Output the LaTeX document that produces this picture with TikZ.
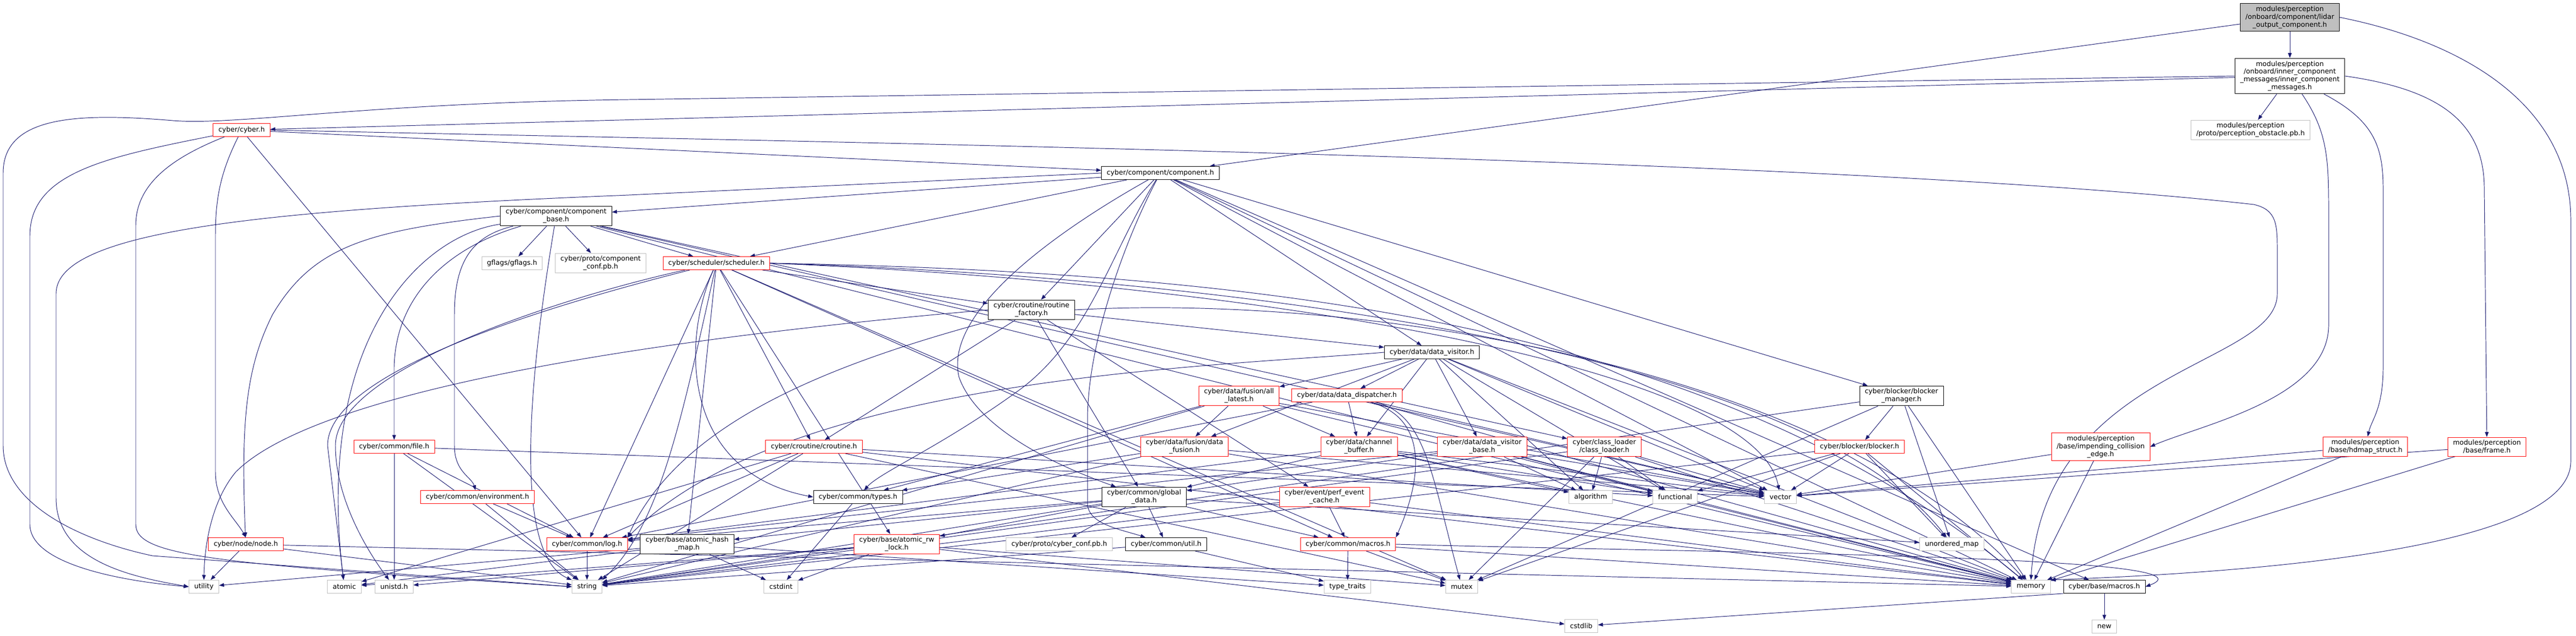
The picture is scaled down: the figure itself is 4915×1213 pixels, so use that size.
\documentclass[tikz,border=0pt]{standalone}
\usepackage{fontspec}
\setmainfont{DejaVu Sans}
\usetikzlibrary{arrows.meta,backgrounds}
\definecolor{edgeblue}{HTML}{191970}
\definecolor{extgray}{HTML}{BFBFBF}

\begin{document}
\begin{tikzpicture}[x=0.02cm, y=-0.02cm,
    every node/.style={font=\fontsize{7.4}{8.5}\selectfont, align=center, inner xsep=0.2cm, inner ysep=0.1cm, minimum height=0.5cm, line width=0.55pt, fill=white},
    hdr/.style={draw=black},
    trunc/.style={draw=red},
    ext/.style={draw=extgray},
    rootbox/.style={draw=black, fill=extgray},
    dep/.style={draw=edgeblue, line width=0.55pt, -{Triangle[length=0.19cm,width=0.14cm]}}]
    \useasboundingbox (0,0) rectangle (4915,1213);

    % Top files
    \node[rootbox] (root) at (4369,33) {modules/perception\\/onboard/component/lidar\\\_output\_component.h};
    \node[hdr] (icm) at (4369,145) {modules/perception\\/onboard/inner\_component\\\_messages/inner\_component\\\_messages.h};
    \node[ext] (pob) at (4294,248) {modules/perception\\/proto/perception\_obstacle.pb.h};
    \node[trunc] (cyber) at (461,248) {cyber/cyber.h};
    \node[hdr] (comp) at (2214,330) {cyber/component/component.h};
    \node[hdr] (cbase) at (1061,412) {cyber/component/component\\\_base.h};

    % Middle rows
    \node[ext] (gflags) at (977,502) {gflags/gflags.h};
    \node[ext] (cconf) at (1146,502) {cyber/proto/component\\\_conf.pb.h};
    \node[trunc] (sched) at (1367,502) {cyber/scheduler/scheduler.h};
    \node[hdr] (rfac) at (1968,591) {cyber/croutine/routine\\\_factory.h};
    \node[hdr] (dvis) at (2732,672) {cyber/data/data\_visitor.h};
    \node[trunc] (alat) at (2364,755) {cyber/data/fusion/all\\\_latest.h};
    \node[trunc] (ddisp) at (2570,754) {cyber/data/data\_dispatcher.h};
    \node[hdr] (bmgr) at (3628,755) {cyber/blocker/blocker\\\_manager.h};

    \node[trunc] (file) at (752,852) {cyber/common/file.h};
    \node[trunc] (crout) at (1553,852) {cyber/croutine/croutine.h};
    \node[trunc] (dfus) at (2260,852) {cyber/data/fusion/data\\\_fusion.h};
    \node[trunc] (cbuf) at (2593,852) {cyber/data/channel\\\_buffer.h};
    \node[trunc] (dvb) at (2828,852) {cyber/data/data\_visitor\\\_base.h};
    \node[trunc] (cload) at (3061,852) {cyber/class\_loader\\/class\_loader.h};
    \node[trunc] (blocker) at (3548,852) {cyber/blocker/blocker.h};
    \node[trunc] (ice) at (4008,852) {modules/perception\\/base/impending\_collision\\\_edge.h};
    \node[trunc] (hdmap) at (4513,852) {modules/perception\\/base/hdmap\_struct.h};
    \node[trunc] (frame) at (4745,852) {modules/perception\\/base/frame.h};

    \node[trunc] (env) at (911,948) {cyber/common/environment.h};
    \node[hdr] (types) at (1637,948) {cyber/common/types.h};
    \node[hdr] (gdata) at (2183,948) {cyber/common/global\\\_data.h};
    \node[trunc] (perf) at (2527,948) {cyber/event/perf\_event\\\_cache.h};
    \node[ext] (algo) at (3035,948) {algorithm};
    \node[ext] (func) at (3196,948) {functional};
    \node[ext] (vec) at (3397,948) {vector};

    \node[trunc] (node) at (469,1038) {cyber/node/node.h};
    \node[trunc] (log) at (1120,1038) {cyber/common/log.h};
    \node[hdr] (ahm) at (1311,1038) {cyber/base/atomic\_hash\\\_map.h};
    \node[trunc] (arw) at (1711,1038) {cyber/base/atomic\_rw\\\_lock.h};
    \node[ext] (cybconf) at (2021,1038) {cyber/proto/cyber\_conf.pb.h};
    \node[hdr] (util) at (2225,1038) {cyber/common/util.h};
    \node[trunc] (macros) at (2572,1038) {cyber/common/macros.h};
    \node[ext] (umap) at (3724,1038) {unordered\_map};

    % System headers
    \node[ext] (utility) at (389,1119) {utility};
    \node[ext] (atomic) at (657,1119) {atomic};
    \node[ext] (unistd) at (752,1119) {unistd.h};
    \node[ext] (string) at (1120,1119) {string};
    \node[ext] (cstdint) at (1490,1119) {cstdint};
    \node[ext] (typetr) at (2571,1119) {type\_traits};
    \node[ext] (mutex) at (2789,1119) {mutex};
    \node[ext] (memory) at (3875,1119) {memory};
    \node[hdr] (bmacros) at (4015,1119) {cyber/base/macros.h};
    \node[ext] (cstdlib) at (3017,1194) {cstdlib};
    \node[ext] (new) at (4015,1195) {new};

    \begin{scope}[on background layer]
    % Root and messages
    \draw[dep] (root) -- (icm);
    \draw[dep] (root) -- (comp);
    \draw[dep] (root.east) .. controls (4700,80) and (4905,200) .. (4905,420) -- (4905,880) .. controls (4905,1060) and (4200,1095) .. (memory.north east);
    \draw[dep] (icm.west) -- (1200,190) .. controls (700,196) and (450,240) .. (330,230) .. controls (150,215) and (6,220) .. (6,330) -- (6,850) .. controls (6,960) and (150,1030) .. (291,1060) -- (string.west);
    \draw[dep] (icm) -- (cyber);
    \draw[dep] (icm) -- (pob);
    \draw[dep] (icm) .. controls (4440,250) and (4443,300) .. (4443,400) -- (4443,620) .. controls (4443,760) and (4200,810) .. (ice.east);
    \draw[dep] (icm) .. controls (4530,230) and (4547,280) .. (4547,360) -- (4547,700) .. controls (4547,780) and (4525,800) .. (hdmap);
    \draw[dep] (icm.east) .. controls (4650,170) and (4740,230) .. (4740,360) -- (frame);

    % cyber.h
    \draw[dep] (cyber) .. controls (200,300) and (57,330) .. (57,450) -- (57,1000) .. controls (57,1080) and (250,1110) .. (utility.west);
    \draw[dep] (cyber) .. controls (330,300) and (259,350) .. (259,430) -- (259,1000) .. controls (259,1060) and (400,1075) .. (string.west);
    \draw[dep] (cyber) .. controls (420,330) and (411,380) .. (411,450) -- (411,900) .. controls (411,960) and (450,990) .. (node.north);
    \draw[dep] (cyber) -- (log);
    \draw[dep] (cyber) -- (comp);
    \draw[dep] (cyber.east) .. controls (1500,270) and (3500,300) .. (4300,390) .. controls (4345,400) and (4345,430) .. (4345,480) -- (4345,560) .. controls (4345,700) and (3900,700) .. (memory.north);

    % component.h
    \draw[dep] (comp) -- (memory);
    \draw[dep] (comp.west) -- (1200,372) .. controls (500,400) and (107,440) .. (107,560) -- (107,950) .. controls (107,1070) and (250,1100) .. (utility.west);
    \draw[dep] (comp) -- (vec);
    \draw[dep] (comp) -- (bmacros);
    \draw[dep] (comp) -- (bmgr);
    \draw[dep] (comp) .. controls (2000,450) and (1800,600) .. (1830,720) .. controls (1870,830) and (2050,900) .. (gdata);
    \draw[dep] (comp) .. controls (2120,480) and (2080,640) .. (1950,740) .. controls (1800,850) and (1680,900) .. (types);
    \draw[dep] (comp) .. controls (2150,450) and (2075,650) .. (2075,800) -- (2075,960) .. controls (2075,1000) and (2140,1010) .. (util);
    \draw[dep] (comp) -- (cbase);
    \draw[dep] (comp) -- (rfac);
    \draw[dep] (comp) -- (dvis);
    \draw[dep] (comp) -- (sched);

    % component_base.h
    \draw[dep] (cbase) .. controls (800,450) and (600,650) .. (atomic);
    \draw[dep] (cbase) -- (memory);
    \draw[dep] (cbase) .. controls (1030,600) and (960,1050) .. (string.north west);
    \draw[dep] (cbase) -- (vec);
    \draw[dep] (cbase) -- (gflags);
    \draw[dep] (cbase) -- (cconf);
    \draw[dep] (cbase) -- (cload);
    \draw[dep] (cbase) .. controls (900,450) and (867,500) .. (867,600) -- (867,850) .. controls (867,900) and (900,910) .. (env);
    \draw[dep] (cbase) .. controls (860,470) and (755,560) .. (752,700) -- (file);
    \draw[dep] (cbase.west) .. controls (700,440) and (597,470) .. (520,600) .. controls (470,700) and (459,800) .. (node);
    \draw[dep] (cbase) -- (sched);

    % scheduler.h
    \draw[dep] (sched) .. controls (1100,560) and (640,700) .. (640,850) .. controls (640,950) and (700,1050) .. (unistd);
    \draw[dep] (sched) .. controls (1100,570) and (625,700) .. (625,850) -- (atomic);
    \draw[dep] (sched.east) .. controls (2500,520) and (3300,640) .. (memory);
    \draw[dep] (sched) -- (mutex);
    \draw[dep] (sched) .. controls (1300,800) and (1260,1000) .. (string.north east);
    \draw[dep] (sched.east) .. controls (2400,530) and (3450,680) .. (umap);
    \draw[dep] (sched.east) .. controls (2400,540) and (3350,700) .. (vec);
    \draw[dep] (sched) -- (ahm);
    \draw[dep] (sched) -- (arw);
    \draw[dep] (sched) -- (log);
    \draw[dep] (sched) -- (macros);
    \draw[dep] (sched) .. controls (1300,650) and (1300,900) .. (types.west);
    \draw[dep] (sched) -- (crout);
    \draw[dep] (sched) -- (rfac);

    % routine_factory.h
    \draw[dep] (rfac.east) .. controls (2600,560) and (3500,700) .. (memory);
    \draw[dep] (rfac.west) .. controls (1200,650) and (600,750) .. (450,900) .. controls (400,960) and (390,1050) .. (utility.north);
    \draw[dep] (rfac) -- (gdata);
    \draw[dep] (rfac) .. controls (1600,690) and (1300,800) .. (log.north east);
    \draw[dep] (rfac) -- (crout);
    \draw[dep] (rfac) -- (dvis);
    \draw[dep] (rfac) -- (perf);

    % data_visitor.h
    \draw[dep] (dvis) -- (algo);
    \draw[dep] (dvis) -- (func);
    \draw[dep] (dvis) -- (memory);
    \draw[dep] (dvis) -- (vec);
    \draw[dep] (dvis.west) .. controls (2300,700) and (1500,720) .. (log.north east);
    \draw[dep] (dvis) -- (cbuf);
    \draw[dep] (dvis) -- (ddisp);
    \draw[dep] (dvis) -- (dvb);
    \draw[dep] (dvis) -- (alat);
    \draw[dep] (dvis) -- (dfus);

    % Blockers
    \draw[dep] (bmgr) -- (memory);
    \draw[dep] (bmgr) -- (mutex);
    \draw[dep] (bmgr) -- (string);
    \draw[dep] (bmgr) -- (umap);
    \draw[dep] (bmgr) -- (blocker);
    \draw[dep] (blocker) -- (func);
    \draw[dep] (blocker) -- (mutex);
    \draw[dep] (blocker) -- (string);
    \draw[dep] (blocker) -- (umap);
    \draw[dep] (blocker) -- (vec);
    \draw[dep] (blocker) -- (memory);

    % Data headers
    \draw[dep] (alat) -- (memory);
    \draw[dep] (alat) -- (string);
    \draw[dep] (alat) -- (vec);
    \draw[dep] (alat) -- (types);
    \draw[dep] (alat) -- (cbuf);
    \draw[dep] (alat) -- (dfus);
    \draw[dep] (ddisp) -- (memory);
    \draw[dep] (ddisp) .. controls (2720,790) and (2730,900) .. (mutex);
    \draw[dep] (ddisp) -- (vec);
    \draw[dep] (ddisp) -- (log);
    \draw[dep] (ddisp) .. controls (2730,800) and (2710,920) .. (macros.north east);
    \draw[dep] (ddisp) -- (cbuf);
    \draw[dep] (cbuf) -- (algo);
    \draw[dep] (cbuf) -- (func);
    \draw[dep] (cbuf) -- (memory);
    \draw[dep] (cbuf) -- (vec);
    \draw[dep] (cbuf) -- (gdata);
    \draw[dep] (cbuf) -- (log);
    \draw[dep] (dfus) -- (memory);
    \draw[dep] (dfus) -- (string);
    \draw[dep] (dfus) -- (vec);
    \draw[dep] (dfus) -- (types);
    \draw[dep] (dvb) -- (algo);
    \draw[dep] (dvb) -- (func);
    \draw[dep] (dvb) -- (memory);
    \draw[dep] (dvb) -- (vec);
    \draw[dep] (dvb) -- (gdata);
    \draw[dep] (dvb) -- (log);
    \draw[dep] (cload) -- (algo);
    \draw[dep] (cload) -- (func);
    \draw[dep] (cload) -- (memory);
    \draw[dep] (cload) -- (mutex);
    \draw[dep] (cload) -- (string);
    \draw[dep] (cload) -- (vec);

    % Perception base
    \draw[dep] (ice) -- (vec);
    \draw[dep] (ice) -- (memory);
    \draw[dep] (hdmap) -- (vec);
    \draw[dep] (hdmap) -- (memory);
    \draw[dep] (frame) -- (vec);
    \draw[dep] (frame) -- (memory);

    % Common headers
    \draw[dep] (file) -- (unistd);
    \draw[dep] (file) -- (string);
    \draw[dep] (file) -- (vec);
    \draw[dep] (file) -- (log);
    \draw[dep] (env) -- (string);
    \draw[dep] (env) -- (log);
    \draw[dep] (node) -- (utility);
    \draw[dep] (node) -- (memory);
    \draw[dep] (node) -- (string);
    \draw[dep] (log) -- (string);
    \draw[dep] (crout) -- (atomic);
    \draw[dep] (crout) -- (func);
    \draw[dep] (crout) -- (memory);
    \draw[dep] (crout) -- (mutex);
    \draw[dep] (crout) -- (string);
    \draw[dep] (crout) -- (log);
    \draw[dep] (types) -- (cstdint);
    \draw[dep] (gdata) -- (string);
    \draw[dep] (gdata) -- (umap);
    \draw[dep] (gdata) -- (cybconf);
    \draw[dep] (gdata) -- (ahm);
    \draw[dep] (gdata) -- (arw);
    \draw[dep] (gdata) -- (log);
    \draw[dep] (gdata) -- (macros);
    \draw[dep] (gdata) -- (util);
    \draw[dep] (perf) -- (memory);
    \draw[dep] (perf) -- (string);
    \draw[dep] (perf) -- (macros);

    % Base headers
    \draw[dep] (ahm) -- (cstdint);
    \draw[dep] (ahm) -- (atomic);
    \draw[dep] (ahm) -- (typetr);
    \draw[dep] (ahm) -- (utility);
    \draw[dep] (arw) -- (cstdint);
    \draw[dep] (arw) -- (unistd);
    \draw[dep] (arw) -- (atomic);
    \draw[dep] (arw) -- (cstdlib);
    \draw[dep] (arw) -- (mutex);
    \draw[dep] (util) -- (string);
    \draw[dep] (util) -- (typetr);
    \draw[dep] (macros) -- (memory);
    \draw[dep] (macros) -- (mutex);
    \draw[dep] (macros) -- (typetr);
    \draw[dep] (macros.east) .. controls (3300,1055) and (4250,1060) .. (bmacros.east);
    \draw[dep] (bmacros.south west) -- (cstdlib);
    \draw[dep] (bmacros) -- (new);
    \end{scope}
\end{tikzpicture}
\end{document}
